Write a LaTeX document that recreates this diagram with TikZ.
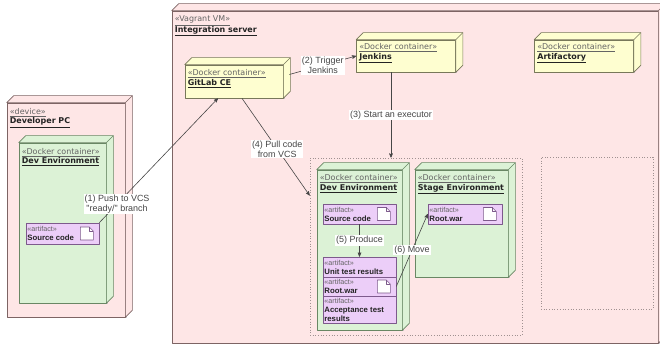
\documentclass[tikz,border=0pt]{standalone}
\usepackage{fontspec}
\setmainfont{DejaVu Sans}
\newfontfamily\lblfont{Liberation Sans}
\usetikzlibrary{arrows,shadows}

\definecolor{pinkfill}{RGB}{254,230,230}
\definecolor{pinkline}{RGB}{125,100,100}
\definecolor{yellowfill}{RGB}{254,254,208}
\definecolor{yellowline}{RGB}{120,120,90}
\definecolor{greenfill}{RGB}{220,242,214}
\definecolor{greenline}{RGB}{105,135,100}
\definecolor{purplefill}{RGB}{236,206,248}
\definecolor{purpleline}{RGB}{125,90,140}
\definecolor{groupline}{RGB}{160,145,145}
\definecolor{stereocol}{RGB}{100,100,100}
\definecolor{namecol}{RGB}{35,35,35}
\definecolor{edgecol}{RGB}{70,70,70}
\definecolor{shadowcol}{RGB}{120,125,140}

\newcommand{\stereo}[2]{\textcolor{stereocol}{\underline{«#1»}}\\\textcolor{namecol}{\textbf{\underline{#2}}}}
\newcommand{\artstereo}{\textcolor{stereocol}{\fontsize{7.2}{7}\mdseries\selectfont«artifact»}}

% top and right faces of a node box
\newcommand{\depthfaces}[3]{%
  \filldraw[fill=#2,draw=#3,line width=0.7bp,line join=bevel] (#1.north west) -- ([shift={(7bp,7bp)}]#1.north west) -- ([shift={(7bp,7bp)}]#1.north east) -- ([shift={(7bp,7bp)}]#1.south east) -- (#1.south east) -- (#1.north east) -- cycle;
  \draw[#3,line width=0.7bp] (#1.north east) -- ([shift={(7bp,7bp)}]#1.north east);
}

% document icon on an artifact
\newcommand{\docicon}[1]{%
  \filldraw[fill=white,draw=purpleline,line width=0.6bp,line join=bevel] ([shift={(-19bp,-6.5bp)}]#1.east) -- ++(0,13bp) -- ++(9bp,0) -- ++(4bp,-4bp) -- ++(0,-9bp) -- cycle;
  \draw[purpleline,line width=0.6bp] ([shift={(-10bp,6.5bp)}]#1.east) -- ++(0,-4bp) -- ++(4bp,0);
}

\tikzset{
  nodeshadow/.style={drop shadow={shadow xshift=1.5bp,shadow yshift=-1.5bp,fill=shadowcol,opacity=0.35}},
  vmbox/.style={rectangle,draw=pinkline,fill=pinkfill,line width=0.7bp,inner sep=0pt,nodeshadow},
  dockbox/.style={rectangle,draw=yellowline,fill=yellowfill,line width=0.7bp,inner sep=0pt,nodeshadow},
  envbox/.style={rectangle,draw=greenline,fill=greenfill,line width=0.7bp,inner sep=0pt,nodeshadow},
  artbox/.style={rectangle,draw=purpleline,fill=purplefill,line width=0.6bp,inner sep=0pt},
  groupbox/.style={rectangle,draw=groupline,dotted,line width=0.7bp,inner sep=0pt},
  boxtext/.style={anchor=north west,align=left,inner sep=1bp,font=\fontsize{8}{9.5}\selectfont},
  arttext/.style={anchor=north west,align=left,inner sep=1bp,text=namecol,font=\lblfont\bfseries\fontsize{7.8}{9}\selectfont},
  edgelabel/.style={fill=white,inner sep=1bp,align=center,text=edgecol,font=\lblfont\fontsize{9}{10}\selectfont},
  edge/.style={->,draw=edgecol,line width=0.6bp},
}

\begin{document}
\begin{tikzpicture}[>=stealth',line join=bevel]
\useasboundingbox (0bp,0bp) rectangle (660bp,347bp);

% Node: Integration server
\node[vmbox,minimum width=486bp,minimum height=332bp] (integration) at (415bp,170bp) {};
\depthfaces{integration}{pinkfill}{pinkline}
\node[boxtext] (integration-t) at ([shift={(2bp,-4bp)}]integration.north west) {\stereo{Vagrant VM}{Integration server}};

% Node: Developer PC
\node[vmbox,minimum width=118bp,minimum height=214bp] (devpc) at (66bp,137bp) {};
\depthfaces{devpc}{pinkfill}{pinkline}
\node[boxtext] (devpc-t) at ([shift={(2bp,-4.5bp)}]devpc.north west) {\stereo{device}{Developer PC}};

% Node: Dev Environment (Developer PC)
\node[envbox,minimum width=87bp,minimum height=160bp] (devenvA) at (62.5bp,124bp) {};
\depthfaces{devenvA}{greenfill}{greenline}
\node[boxtext] (devenvA-t) at ([shift={(2bp,-4.5bp)}]devenvA.north west) {\stereo{Docker container}{Dev Environment}};

\node[artbox,minimum width=73bp,minimum height=21bp] (srcA) at (62.5bp,113.5bp) {};
\docicon{srcA}
\node[arttext] (srcA-t) at ([shift={(0.5bp,-2bp)}]srcA.north west) {\artstereo\\Source code};

% Node: GitLab CE
\node[dockbox,minimum width=98bp,minimum height=33bp] (gitlab) at (234bp,265.5bp) {};
\depthfaces{gitlab}{yellowfill}{yellowline}
\node[boxtext] (gitlab-t) at ([shift={(2bp,-4bp)}]gitlab.north west) {\stereo{Docker container}{GitLab CE}};

% Node: Jenkins
\node[dockbox,minimum width=99bp,minimum height=32bp] (jenkins) at (406bp,291bp) {};
\depthfaces{jenkins}{yellowfill}{yellowline}
\node[boxtext] (jenkins-t) at ([shift={(2bp,-3bp)}]jenkins.north west) {\stereo{Docker container}{Jenkins}};

% Node: Artifactory
\node[dockbox,minimum width=99bp,minimum height=32bp] (artifactory) at (584bp,291bp) {};
\depthfaces{artifactory}{yellowfill}{yellowline}
\node[boxtext] (artifactory-t) at ([shift={(2bp,-3bp)}]artifactory.north west) {\stereo{Docker container}{Artifactory}};

% Node: executor groups
\node[groupbox,minimum width=212bp,minimum height=177bp] (devgroup) at (416bp,100.5bp) {};
\node[groupbox,minimum width=112bp,minimum height=152bp] (sparegroup) at (597bp,114bp) {};

% Node: Dev Environment (executor)
\node[envbox,minimum width=85bp,minimum height=160bp] (devenvB) at (359.5bp,97bp) {};
\depthfaces{devenvB}{greenfill}{greenline}
\node[boxtext] (devenvB-t) at ([shift={(2bp,-4bp)}]devenvB.north west) {\stereo{Docker container}{Dev Environment}};

\node[artbox,minimum width=73bp,minimum height=20bp] (srcB) at (359.5bp,133bp) {};
\docicon{srcB}
\node[arttext] (srcB-t) at ([shift={(0.5bp,-2bp)}]srcB.north west) {\artstereo\\Source code};

\node[artbox,minimum width=73bp,minimum height=20bp] (unitres) at (359.5bp,80bp) {};
\node[arttext] (unitres-t) at ([shift={(0.5bp,-2bp)}]unitres.north west) {\artstereo\\Unit test results};

\node[artbox,minimum width=73bp,minimum height=19bp] (warB) at (359.5bp,60.5bp) {};
\docicon{warB}
\node[arttext] (warB-t) at ([shift={(0.5bp,-1.5bp)}]warB.north west) {\artstereo\\Root.war};

\node[artbox,minimum width=73bp,minimum height=27bp] (acceptres) at (359.5bp,37.5bp) {};
\node[arttext] (acceptres-t) at ([shift={(0.5bp,-1.5bp)}]acceptres.north west) {\artstereo\\Acceptance test\\results};

% Node: Stage Environment
\node[envbox,minimum width=93bp,minimum height=107bp] (stageenv) at (461.5bp,123.5bp) {};
\depthfaces{stageenv}{greenfill}{greenline}
\node[boxtext] (stageenv-t) at ([shift={(2bp,-4bp)}]stageenv.north west) {\stereo{Docker container}{Stage Environment}};

\node[artbox,minimum width=74bp,minimum height=20bp] (warC) at (465bp,133bp) {};
\docicon{warC}
\node[arttext] (warC-t) at ([shift={(0.5bp,-2bp)}]warC.north west) {\artstereo\\Root.war};

% Edge: Source code -> GitLab CE
\draw[edge] (srcA.north east) -- node[edgelabel,pos=0.15] (lbl1) {(1) Push to VCS\\"ready/" branch} (gitlab);

% Edge: GitLab CE -> Jenkins
\draw[edge] ([shift={(6bp,7bp)}]gitlab.east) -- node[edgelabel] (lbl2) {(2) Trigger\\Jenkins} (jenkins.west);

% Edge: Jenkins -> executor
\draw[edge] ([xshift=-15bp]jenkins.south) -- node[edgelabel] (lbl3) {(3) Start an executor} ([xshift=-15bp]jenkins.south |- devgroup.north);

% Edge: GitLab CE -> executor
\draw[edge] ([xshift=8bp]gitlab.south) -- node[edgelabel,pos=0.52] (lbl4) {(4) Pull code\\from VCS} ([yshift=51bp]devgroup.west);

% Edge: Source code -> Unit test results
\draw[edge] (srcB) -- node[edgelabel] (lbl5) {(5) Produce} (unitres);

% Edge: Root.war -> Root.war
\draw[edge] (warB.east) -- node[edgelabel] (lbl6) {(6) Move} (warC.west);
%
\end{tikzpicture}
\end{document}
